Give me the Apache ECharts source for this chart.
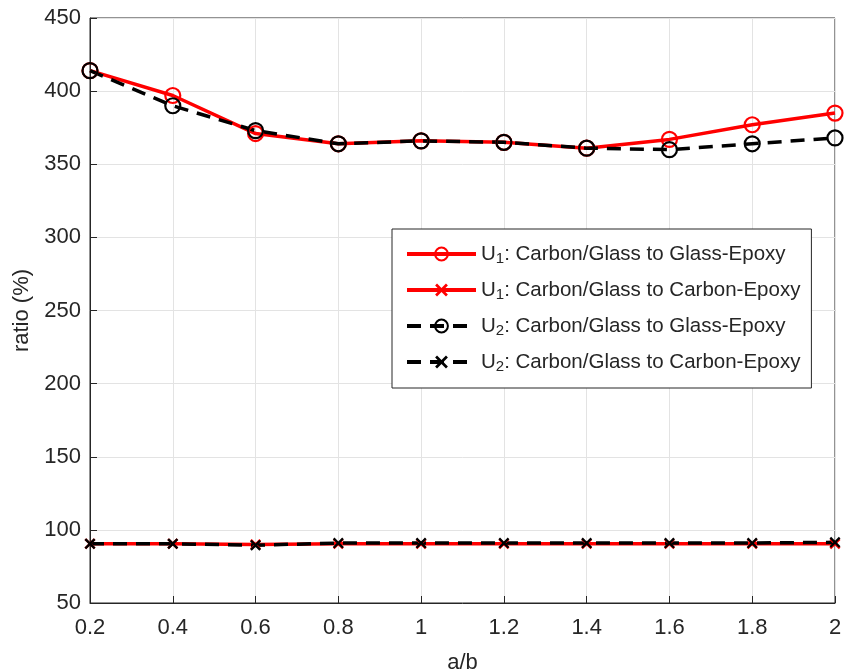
<!DOCTYPE html>
<html><head><meta charset="utf-8">
<script src="https://cdn.jsdelivr.net/npm/echarts@6/dist/echarts.min.js"></script>
<style>html,body{margin:0;padding:0;background:#fff}#c{width:845px;height:672px}</style>
</head><body><div id="c"></div>
<script>
const xValues = [0.2,0.4,0.6,0.8,1.0,1.2,1.4,1.6,1.8,2.0];
const u1Glass  = [414,397,371,364,366,365,361,367,377,385];
const u1Carbon = [90.5,90.5,90,90.5,90.5,90.5,90.5,90.5,90.5,90.5];
const u2Glass  = [414,390,373,364,366,365,361,360,364,368];
const u2Carbon = [90.5,90.5,89.5,91,91,91,91,91,91,91.5];
const seriesNames = [
  'U{sub|1}: Carbon/Glass to Glass-Epoxy',
  'U{sub|1}: Carbon/Glass to Carbon-Epoxy',
  'U{sub|2}: Carbon/Glass to Glass-Epoxy',
  'U{sub|2}: Carbon/Glass to Carbon-Epoxy'
];

const pts = a => xValues.map((x,i)=>[x,a[i]]);
const crossPath = 'path://M0,1.5L1.5,0L5,3.5L8.5,0L10,1.5L6.5,5L10,8.5L8.5,10L5,6.5L1.5,10L0,8.5L3.5,5Z';
const FONT = '"Liberation Sans", Arial, Helvetica, sans-serif';

function mk(name, data, color, dashed, cross){
  return {
    name, type:'line', data: pts(data),
    lineStyle:{color, width:3.5, type: dashed ? [14,9] : 'solid'},
    symbol: cross ? crossPath : 'circle',
    symbolSize: cross ? 11 : 15,
    itemStyle: cross ? {color: color, borderWidth:0}
                     : {color:'rgba(0,0,0,0)', borderColor: color, borderWidth:2.2},
    showAllSymbol:true,
    emphasis:{disabled:true},
    animation:false
  };
}

const chart = echarts.init(document.getElementById('c'));
chart.setOption({
  animation:false,
  backgroundColor:'#fff',
  textStyle:{fontFamily:FONT},
  grid:{left:90, right:10, top:18, bottom:69, show:true, borderColor:'#262626', borderWidth:1,
        backgroundColor:'transparent', outerBoundsMode:'none', containLabel:false},
  xAxis:{
    type:'value', min:0.2, max:2, interval:0.2,
    name:'a/b', nameLocation:'middle', nameGap:49,
    nameTextStyle:{fontSize:22, color:'#262626', fontFamily:FONT},
    axisLine:{show:true, onZero:false, lineStyle:{color:'#262626', width:1}},
    axisTick:{show:true, inside:true, length:7, lineStyle:{color:'#262626'}},
    axisLabel:{fontSize:22, color:'#262626', margin:14, fontFamily:FONT,
      formatter: v => String(+(+v).toFixed(1))},
    splitLine:{show:true, lineStyle:{color:'#e3e3e3', width:1}}
  },
  yAxis:{
    type:'value', min:50, max:450, interval:50,
    name:'ratio (%)', nameLocation:'middle', nameGap:55, nameRotate:90,
    nameTextStyle:{fontSize:22, color:'#262626', fontFamily:FONT},
    axisLine:{show:true, onZero:false, lineStyle:{color:'#262626', width:1}},
    axisTick:{show:true, inside:true, length:7, lineStyle:{color:'#262626'}},
    axisLabel:{fontSize:22, color:'#262626', margin:9, fontFamily:FONT},
    splitLine:{show:true, lineStyle:{color:'#e3e3e3', width:1}}
  },
  legend:{
    show:true, orient:'vertical', left:392, top:229,
    padding:[13,11,14,13],
    itemGap:12, itemWidth:69, itemHeight:16,
    lineStyle:{width:4},
    backgroundColor:'#fff', borderColor:'#262626', borderWidth:1,
    textStyle:{fontSize:20.5, lineHeight:24, color:'#262626', fontFamily:FONT,
      rich:{sub:{fontSize:15, verticalAlign:'bottom', padding:[14,0,0,0], fontFamily:FONT, color:'#262626'}}},
    data: seriesNames.map(n=>({name:n}))
  },
  series:[
    mk(seriesNames[0], u1Glass, '#ff0000', false, false),
    mk(seriesNames[1], u1Carbon, '#ff0000', false, true),
    mk(seriesNames[2], u2Glass, '#000000', true, false),
    mk(seriesNames[3], u2Carbon, '#000000', true, true)
  ]
});
</script></body></html>
